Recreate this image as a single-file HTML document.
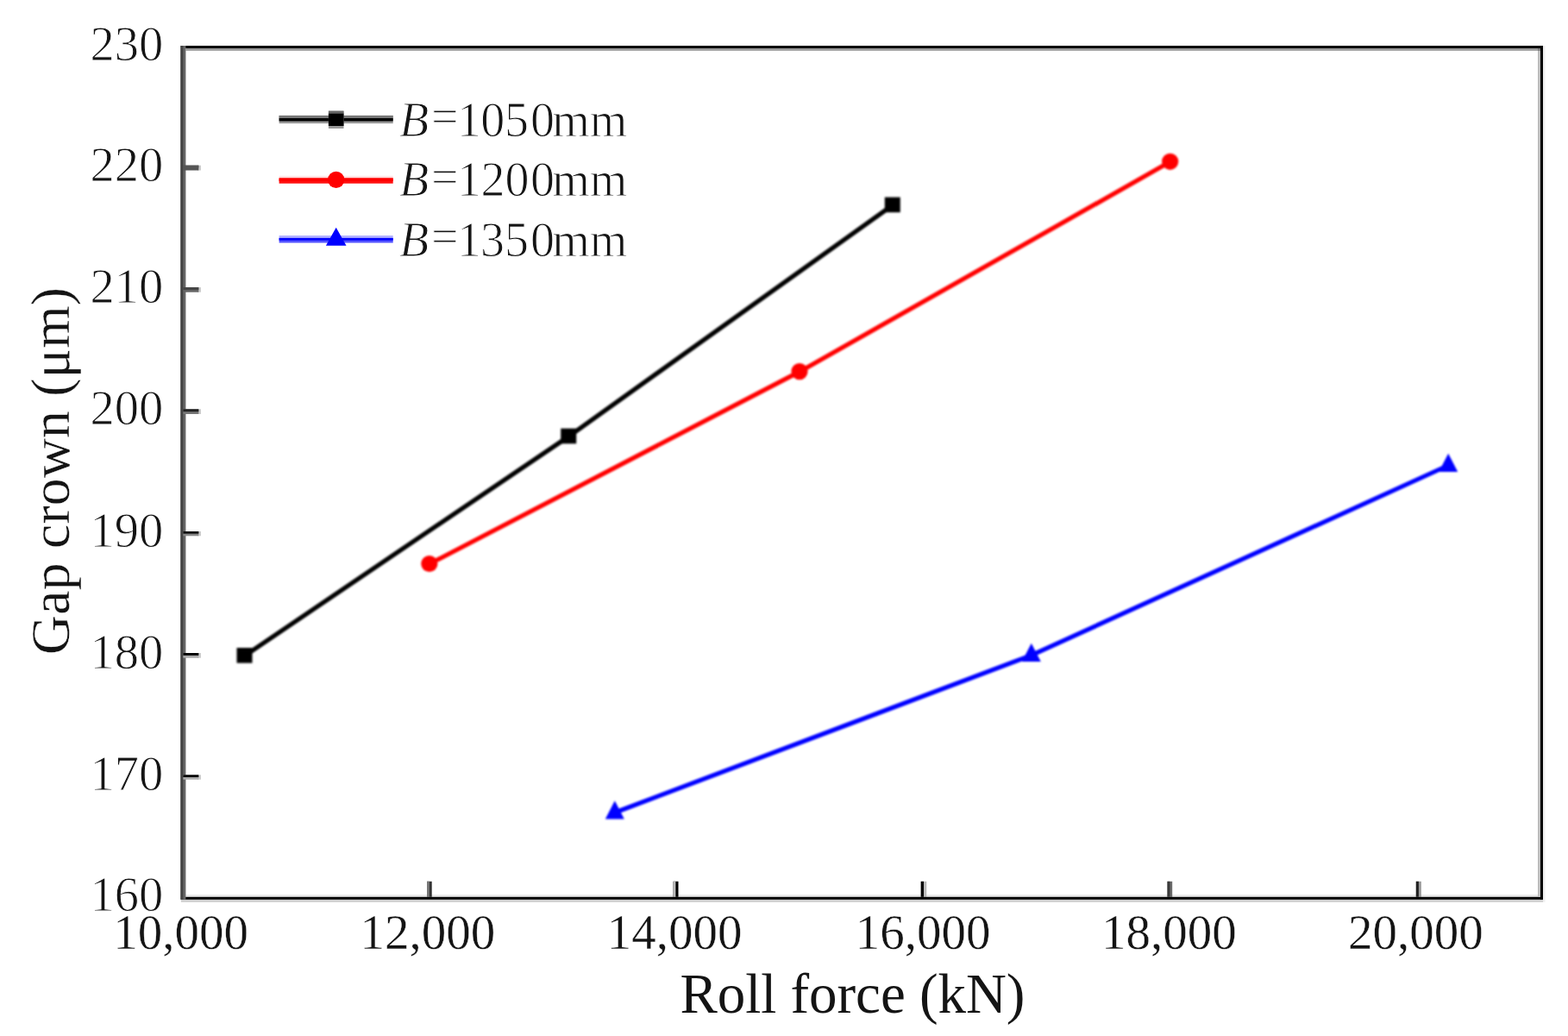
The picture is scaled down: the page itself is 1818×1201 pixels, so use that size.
<!DOCTYPE html>
<html lang="en"><head><meta charset="utf-8"><title>Gap crown vs roll force</title>
<style>
html,body{margin:0;padding:0;background:#fff;}
body{width:1818px;height:1201px;overflow:hidden;}
svg{display:block;}
text{font-family:"Liberation Serif","DejaVu Serif",serif;fill:#141414;stroke:#fff;stroke-width:0;paint-order:fill stroke;}
.tk{font-size:56.5px;stroke-width:0.9px;}
.tx{font-size:57px;stroke-width:0.4px;}
.ti{font-size:65px;}
.ty{font-size:63.5px;stroke-width:0.3px;}
.lg{font-size:56px;stroke-width:1px;}
</style></head><body>
<svg width="1818" height="1201" viewBox="0 0 1818 1201">
<rect x="0" y="0" width="1818" height="1201" fill="#ffffff"/>
<defs><filter id="soft" x="-5%" y="-5%" width="110%" height="110%" color-interpolation-filters="sRGB"><feGaussianBlur stdDeviation="0.85"/></filter><filter id="softl" x="-5%" y="-5%" width="110%" height="110%" color-interpolation-filters="sRGB"><feGaussianBlur stdDeviation="0.45"/></filter><filter id="softt" x="-5%" y="-5%" width="110%" height="110%" color-interpolation-filters="sRGB"><feGaussianBlur stdDeviation="0.6"/></filter></defs>
<g>
<rect x="215.4" y="1037.2" width="1570.6" height="5.6" fill="#e9e9e9"/>
<rect x="1788" y="53" width="3.5" height="992.8" fill="#efefef"/>
<rect x="495" y="1021.8" width="5.7" height="19" fill="#333"/>
<rect x="495" y="1021.8" width="2.9" height="19" fill="#777"/>
<rect x="780.6" y="1021.8" width="5.9" height="19" fill="#000"/>
<rect x="780.6" y="1021.8" width="2.8" height="19" fill="#bbb"/>
<rect x="1067.7" y="1021.8" width="6.6" height="19" fill="#bbb"/>
<rect x="1067.7" y="1021.8" width="3.3" height="19" fill="#000"/>
<rect x="1353.5" y="1021.8" width="5.7" height="19" fill="#6a6a6a"/>
<rect x="1353.5" y="1021.8" width="2.9" height="19" fill="#3a3a3a"/>
<rect x="1641.8" y="1021.8" width="6" height="19" fill="#999"/>
<rect x="1641.8" y="1021.8" width="3.1" height="19" fill="#222"/>
<rect x="215.4" y="53" width="1570.6" height="5.8" fill="#999"/>
<rect x="209.9" y="53" width="1579.1" height="3" fill="#0a0a0a"/>
<rect x="209.9" y="1039.8" width="1579.1" height="6" fill="#cfcfcf"/>
<rect x="209.9" y="1039.8" width="1579.1" height="3" fill="#000"/>
<rect x="209.4" y="53" width="6" height="989.8" fill="#666"/>
<rect x="209.4" y="53" width="3" height="989.8" fill="#444"/>
<rect x="1783" y="56" width="6" height="983.8" fill="#bdbdbd"/>
<rect x="1783" y="56" width="3" height="2.8" fill="#7a7a7a"/>
<rect x="1786" y="53" width="3" height="989.8" fill="#000"/>
<rect x="229" y="191.7" width="4" height="5.8" fill="#ccc"/>
<rect x="212.4" y="191.7" width="17.9" height="5.8" fill="#555"/>
<rect x="212.4" y="191.7" width="17.9" height="2.9" fill="#555"/>
<rect x="229" y="333.1" width="4" height="5.6" fill="#ccc"/>
<rect x="212.4" y="333.1" width="17.9" height="5.6" fill="#666"/>
<rect x="212.4" y="333.1" width="17.9" height="2.9" fill="#444"/>
<rect x="229" y="474.3" width="4" height="5.7" fill="#ccc"/>
<rect x="212.4" y="474.3" width="17.9" height="5.7" fill="#777"/>
<rect x="212.4" y="474.3" width="17.9" height="2.9" fill="#222"/>
<rect x="229" y="616" width="4" height="5.3" fill="#ccc"/>
<rect x="212.4" y="616" width="17.9" height="5.3" fill="#888"/>
<rect x="212.4" y="616" width="17.9" height="2.7" fill="#111"/>
<rect x="229" y="757" width="4" height="5.7" fill="#ccc"/>
<rect x="212.4" y="757" width="17.9" height="5.7" fill="#aaa"/>
<rect x="212.4" y="757" width="17.9" height="2.8" fill="#000"/>
<rect x="229" y="898.3" width="4" height="5.4" fill="#ccc"/>
<rect x="212.4" y="898.3" width="17.9" height="5.4" fill="#aaa"/>
<rect x="212.4" y="898.3" width="17.9" height="2.7" fill="#000"/>
</g>
<g filter="url(#soft)">
<polyline fill="none" stroke="#000" stroke-width="5.2" points="283.5,760.3 659.2,506 1034.8,237.9"/>
<rect x="274.5" y="751" width="18" height="17.6" fill="#000"/>
<rect x="650.2" y="496.7" width="18" height="17.6" fill="#000"/>
<rect x="1025.8" y="228.6" width="18" height="17.6" fill="#000"/>
<polyline fill="none" stroke="#ff0000" stroke-width="5.2" points="497.8,653.8 927,430.9 1356.7,187.6"/>
<circle cx="497.8" cy="653.5" r="9.6" fill="#ff0000"/>
<circle cx="927" cy="430.6" r="9.6" fill="#ff0000"/>
<circle cx="1356.7" cy="187.3" r="9.6" fill="#ff0000"/>
<polyline fill="none" stroke="#0000ff" stroke-width="5.2" points="712.8,942 1195.8,759.6 1679.2,539.5"/>
<polygon points="712.8,928.2 701.8,949.4 723.8,949.4" fill="#0000ff"/>
<polygon points="1195.8,745.8 1184.8,767 1206.8,767" fill="#0000ff"/>
<polygon points="1679.2,525.7 1668.2,546.9 1690.2,546.9" fill="#0000ff"/>
</g>
<g filter="url(#softl)">
<rect x="323.6" y="133.9" width="132.1" height="9.2" fill="#999"/>
<rect x="323.6" y="133.9" width="132.1" height="3.3" fill="#777"/>
<rect x="323.6" y="137" width="132.1" height="3.5" fill="#000"/>
<rect x="380.9" y="128.6" width="17.6" height="20.4" fill="#999"/>
<rect x="380.9" y="128.6" width="17.6" height="3.4" fill="#666"/>
<rect x="380.9" y="131.7" width="17.6" height="14.3" fill="#000"/>
<rect x="323.6" y="203.9" width="132.1" height="2.9" fill="#ffe2e2"/>
<rect x="323.6" y="206.5" width="132.1" height="6.2" fill="#ff1010"/>
<rect x="323.6" y="206.5" width="132.1" height="3.5" fill="#ff0000"/>
<circle cx="389.7" cy="208.4" r="9.6" fill="#ff0000"/>
<rect x="323.6" y="273" width="132.1" height="3.2" fill="#b4b4ff"/>
<rect x="323.6" y="275.9" width="132.1" height="5.6" fill="#5555ff"/>
<rect x="323.6" y="275.9" width="132.1" height="2.8" fill="#0000ff"/>
<polygon points="389.7,263.8 377.9,284.7 401.5,284.7" fill="#0000ff"/>
</g>
<g filter="url(#softt)">
<text class="lg" y="158"><tspan font-style="italic" x="462.9">B</tspan><tspan x="500.0" dy="-3.8">=</tspan><tspan dy="3.8" x="529.9 557.2 585.0 615.0 640.2 683.7">1050mm</tspan></text>
<text class="lg" y="227.4"><tspan font-style="italic" x="462.9">B</tspan><tspan x="500.0" dy="-3.8">=</tspan><tspan dy="3.8" x="529.9 557.6 585.5 615.0 640.2 683.7">1200mm</tspan></text>
<text class="lg" y="296.7"><tspan font-style="italic" x="462.9">B</tspan><tspan x="500.0" dy="-3.8">=</tspan><tspan dy="3.8" x="529.9 557.0 585.0 615.0 640.2 683.7">1350mm</tspan></text>
<text class="tk" x="189.3" y="69.8" text-anchor="end">230</text>
<text class="tk" x="189.3" y="210.3" text-anchor="end">220</text>
<text class="tk" x="189.3" y="351.3" text-anchor="end">210</text>
<text class="tk" x="189.3" y="492.3" text-anchor="end">200</text>
<text class="tk" x="189.3" y="633.6" text-anchor="end">190</text>
<text class="tk" x="189.3" y="774.6" text-anchor="end">180</text>
<text class="tk" x="189.3" y="915.6" text-anchor="end">170</text>
<text class="tk" x="189.3" y="1056" text-anchor="end">160</text>
<text class="tx" x="209.6" y="1100" text-anchor="middle">10,000</text>
<text class="tx" x="495.8" y="1100" text-anchor="middle">12,000</text>
<text class="tx" x="782" y="1100" text-anchor="middle">14,000</text>
<text class="tx" x="1070.1" y="1100" text-anchor="middle">16,000</text>
<text class="tx" x="1355.4" y="1100" text-anchor="middle">18,000</text>
<text class="tx" x="1641.4" y="1100" text-anchor="middle">20,000</text>
<text class="ti" x="788.5" y="1174" textLength="400" lengthAdjust="spacing">Roll force (kN)</text>
<text class="ty" transform="translate(80,759) rotate(-90)" textLength="426" lengthAdjust="spacing">Gap crown (μm)</text>
</g>
</svg>
</body></html>
